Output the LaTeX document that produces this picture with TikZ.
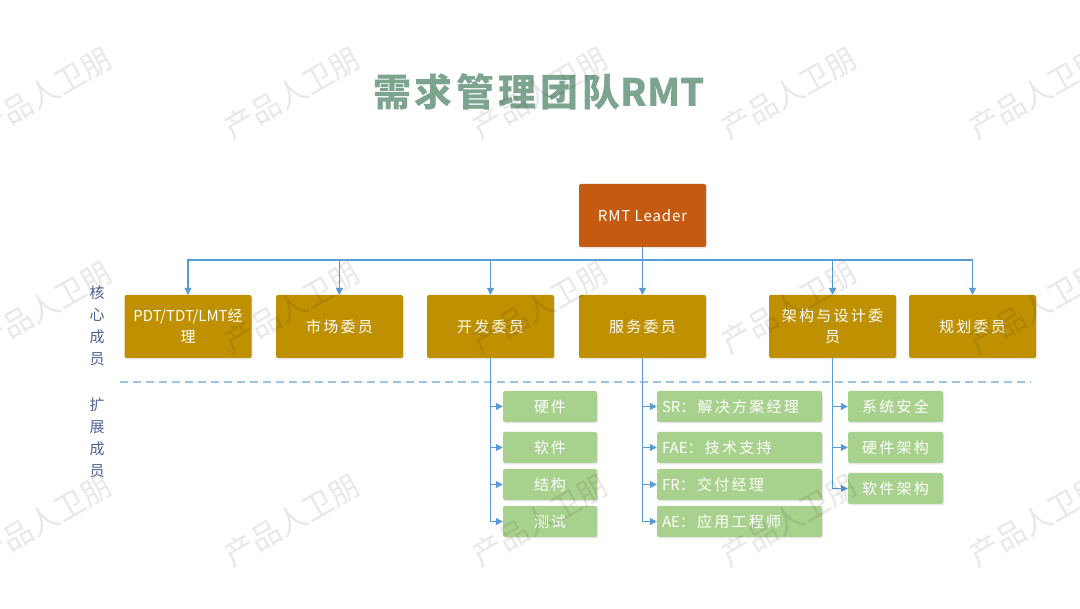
\documentclass[tikz,border=0pt]{standalone}
\usepackage{fontspec}
\setmainfont{Noto Sans CJK SC}
\newfontfamily\cjk[LetterSpace=15]{Noto Sans CJK SC}
\newfontfamily\lat{Noto Sans CJK SC}
\newfontfamily\latsp[LetterSpace=6]{Noto Sans CJK SC}
\newfontfamily\ttl[LetterSpace=10]{Noto Sans CJK SC}
\usetikzlibrary{arrows.meta,shadows}
\definecolor{titlec}{RGB}{125,164,143}
\definecolor{leadc}{RGB}{197,90,17}
\definecolor{corec}{RGB}{191,144,0}
\definecolor{extc}{RGB}{169,209,142}
\definecolor{linec}{RGB}{91,155,213}
\definecolor{dashc}{RGB}{157,195,230}
\definecolor{sidec}{RGB}{78,98,150}
\begin{document}
\begin{tikzpicture}[x=1pt,y=-1pt,
  box/.style={rounded corners=2pt, text=white, inner sep=0pt, align=center,
    drop shadow={shadow xshift=1pt,shadow yshift=-1.5pt,opacity=0.18}},
  leadbox/.style={box, fill=leadc, minimum width=127pt, minimum height=63pt,
    font=\latsp\fontsize{15}{18}\selectfont},
  corebox/.style={box, fill=corec, minimum width=127pt, minimum height=63pt,
    font=\cjk\fontsize{15}{21}\selectfont},
  extbox/.style={box, fill=extc, minimum height=31pt,
    font=\cjk\fontsize{15}{18}\selectfont},
  conn/.style={draw=linec, line width=1.2pt, -{Triangle[length=7pt,width=7pt]}},
  plain/.style={draw=linec, line width=1.2pt},
  sep/.style={draw=dashc, line width=1.3pt, dash pattern=on 8pt off 5pt},
  side/.style={text=sidec, align=center, font=\fontsize{15}{22}\selectfont},
  wm/.style={text=black, opacity=0.09, rotate=30, font=\fontsize{30}{30}\selectfont}
]
\useasboundingbox[fill=white] (0,0) rectangle (1080,609);

% title
\node[text=titlec, font=\ttl\bfseries\fontsize{38}{40}\selectfont] (title) at (539,92) {需求管理团队{\lat\bfseries RMT}};

% leader
\node[leadbox] (leader) at (642.5,215.5) {RMT Leader};

% core members
\node[corebox] (c1) at (188,326.5) {{\lat PDT/TDT/LMT}经\\理};
\node[corebox] (c2) at (339.5,326.5) {市场委员};
\node[corebox] (c3) at (490.5,326.5) {开发委员};
\node[corebox] (c4) at (642.5,326.5) {服务委员};
\node[corebox] (c5) at (832.5,326.5) {架构与设计委\\员};
\node[corebox] (c6) at (972.5,326.5) {规划委员};

% extension members
\node[extbox, minimum width=94pt] (e11) at (550,406.5) {硬\hspace{2pt}件};
\node[extbox, minimum width=94pt] (e12) at (550,447.5) {软\hspace{2pt}件};
\node[extbox, minimum width=94pt] (e13) at (550,484.5) {结\hspace{2pt}构};
\node[extbox, minimum width=94pt] (e14) at (550,521.5) {测\hspace{2pt}试};

\node[extbox, text width=155pt, inner xsep=5pt, align=left] (e21) at (739.5,406.5) {{\lat SR}：解决方案经理};
\node[extbox, text width=155pt, inner xsep=5pt, align=left] (e22) at (739.5,447.5) {{\lat FAE}：技术支持};
\node[extbox, text width=155pt, inner xsep=5pt, align=left] (e23) at (739.5,484.5) {{\lat FR}：交付经理};
\node[extbox, text width=155pt, inner xsep=5pt, align=left] (e24) at (739.5,521.5) {{\lat AE}：应用工程师};

\node[extbox, minimum width=95pt] (e31) at (895.5,406.5) {系统安全};
\node[extbox, minimum width=95pt] (e32) at (895.5,447.5) {硬件架构};
\node[extbox, minimum width=95pt] (e33) at (895.5,488.5) {软件架构};

% side labels
\node[side] (core) at (97,326) {核\\心\\成\\员};
\node[side] (ext) at (97,437.5) {扩\\展\\成\\员};

% separator
\coordinate (dl) at (120,382);
\coordinate (dr) at (1031,382);
\draw[sep] (dl) -- (dr);

% connectors from leader
\coordinate (bus) at (642.5,260);
\draw[plain] (leader.south) -- (bus);
\foreach \c in {c1,c2,c3,c4,c5,c6}{
  \draw[conn] (bus) -| (\c.north);
}

% connectors to extension members
\foreach \e in {e11,e12,e13,e14}{ \draw[conn] (c3.south) |- (\e.west); }
\foreach \e in {e21,e22,e23,e24}{ \draw[conn] (c4.south) |- (\e.west); }
\foreach \e in {e31,e32,e33}{ \draw[conn] (c5.south) |- (\e.west); }

% watermark
\foreach \x [count=\i] in {44,292,540,789,1037}{
  \foreach \y [count=\j] in {93,307,520}{
    \node[wm] (wm\i\j) at (\x,\y) {产品人卫朋};
  }
}
\end{tikzpicture}
\end{document}
